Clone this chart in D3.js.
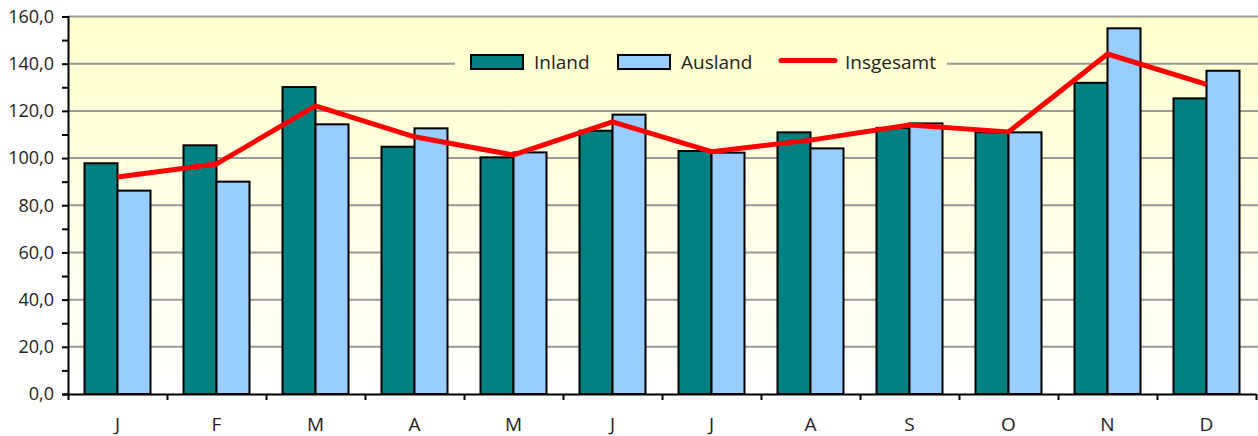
<!DOCTYPE html>
<html lang="de">
<head>
  <meta charset="UTF-8">
  <title>Inland / Ausland / Insgesamt</title>
  <script src="https://d3js.org/d3.v7.min.js"></script>
  <style>
    body { margin: 0; background: #fff; }
    text { font-family: "Open Sans", "Noto Sans", sans-serif; fill: #222; }
  </style>
</head>
<body>
  <div id="chart"></div>
  <script>
    // Daten
    const months = ["J", "F", "M", "A", "M", "J", "J", "A", "S", "O", "N", "D"];
    const inland = [97.8, 105.4, 130.1, 104.8, 100.3, 111.6, 103.0, 110.9, 112.8, 110.9, 131.9, 125.3];
    const ausland = [86.2, 90.0, 114.3, 112.6, 102.4, 118.4, 102.3, 104.1, 114.7, 110.9, 155.0, 137.0];
    const insgesamt = [92.0, 97.5, 122.1, 109.0, 101.3, 115.3, 102.7, 107.6, 114.0, 111.1, 144.1, 131.2];
    const seriesNames = ["Inland", "Ausland", "Insgesamt"];
    const yTicks = [0, 20, 40, 60, 80, 100, 120, 140, 160];

    const width = 1258, height = 436;
    const plotLeft = 68, plotRight = 1256, plotTop = 16.5, plotBottom = 394;

    const svg = d3.select("#chart").append("svg")
      .attr("width", width)
      .attr("height", height);

    const defs = svg.append("defs");
    const grad = defs.append("linearGradient")
      .attr("id", "bg")
      .attr("gradientUnits", "userSpaceOnUse")
      .attr("x1", 0).attr("x2", 0)
      .attr("y1", plotTop).attr("y2", plotBottom);
    grad.append("stop").attr("offset", "0%").attr("stop-color", "#ffffcc");
    grad.append("stop").attr("offset", "100%").attr("stop-color", "#ffffff");

    const x = d3.scaleBand()
      .domain(d3.range(months.length))
      .range([plotLeft, plotRight])
      .padding(0);

    const xSub = d3.scaleBand()
      .domain(["Inland", "Ausland"])
      .range([0, x.bandwidth()])
      .paddingInner(0)
      .paddingOuter(0.5);

    const y = d3.scaleLinear()
      .domain([0, 160])
      .range([plotBottom, plotTop]);

    // Hintergrund
    svg.append("rect")
      .attr("x", plotLeft).attr("y", plotTop)
      .attr("width", width - plotLeft).attr("height", plotBottom - plotTop)
      .attr("fill", "url(#bg)");

    // Gitternetz
    svg.append("g")
      .selectAll("line")
      .data(yTicks.filter(d => d > 0))
      .join("line")
      .attr("x1", plotLeft).attr("x2", width)
      .attr("y1", d => y(d)).attr("y2", d => y(d))
      .attr("stroke", "#999")
      .attr("stroke-width", 2);

    // Legende (überdeckt die Gitterlinie)
    const legend = svg.append("g");
    legend.append("rect")
      .attr("x", 455).attr("y", 47)
      .attr("width", 492).attr("height", 30)
      .attr("fill", "url(#bg)");

    // Balken
    const barData = [];
    months.forEach((m, i) => {
      barData.push({ i, key: "Inland", v: inland[i] });
      barData.push({ i, key: "Ausland", v: ausland[i] });
    });
    const colors = { Inland: "#008080", Ausland: "#99ccff" };

    svg.append("g")
      .selectAll("rect")
      .data(barData)
      .join("rect")
      .attr("x", d => x(d.i) + xSub(d.key))
      .attr("y", d => y(d.v))
      .attr("width", xSub.bandwidth())
      .attr("height", d => y(0) - y(d.v))
      .attr("fill", d => colors[d.key])
      .attr("stroke", "#000")
      .attr("stroke-width", 2);

    // Linie Insgesamt
    const line = d3.line()
      .x((d, i) => x(i) + x.bandwidth() / 2)
      .y(d => y(d));

    svg.append("path")
      .datum(insgesamt)
      .attr("d", line)
      .attr("fill", "none")
      .attr("stroke", "#ff0000")
      .attr("stroke-width", 5)
      .attr("stroke-linejoin", "round");

    // Y-Achse
    const yAxis = d3.axisLeft(y)
      .tickValues(d3.range(0, 161, 10))
      .tickSize(6)
      .tickPadding(8)
      .tickFormat(d => d % 20 === 0 ? d3.format(".1f")(d).replace(".", ",") : "");

    const gy = svg.append("g")
      .attr("transform", `translate(${plotLeft},0)`)
      .call(yAxis);
    gy.select(".domain").attr("stroke", "#000").attr("stroke-width", 2);
    gy.selectAll(".tick line").attr("stroke", "#000").attr("stroke-width", 2);
    gy.selectAll("text")
      .style("font-size", "18px")
      .attr("fill", "#222");

    // X-Achse: Striche zwischen den Monaten
    const xEdge = d3.scaleLinear().domain([0, months.length]).range([plotLeft, plotRight]);
    const gx = svg.append("g")
      .attr("transform", `translate(0,${plotBottom})`)
      .call(d3.axisBottom(xEdge).tickValues(d3.range(months.length + 1)).tickSize(6).tickSizeOuter(0).tickFormat(""));
    gx.select(".domain").attr("stroke", "#000").attr("stroke-width", 2);
    gx.selectAll(".tick line").attr("stroke", "#000").attr("stroke-width", 2);

    // X-Achse: Monatsbeschriftung
    const gxl = svg.append("g")
      .attr("transform", `translate(0,${plotBottom})`)
      .call(d3.axisBottom(x).tickSize(0).tickPadding(24).tickFormat(i => months[i]));
    gxl.select(".domain").remove();
    gxl.selectAll("text")
      .style("font-size", "19px")
      .attr("fill", "#222");

    // Legendeneinträge
    legend.append("rect")
      .attr("x", 471).attr("y", 55).attr("width", 52).attr("height", 14)
      .attr("fill", colors.Inland).attr("stroke", "#000").attr("stroke-width", 2);
    legend.append("text").attr("x", 534).attr("y", 69)
      .style("font-size", "19px").text(seriesNames[0]);

    legend.append("rect")
      .attr("x", 618).attr("y", 55).attr("width", 52).attr("height", 14)
      .attr("fill", colors.Ausland).attr("stroke", "#000").attr("stroke-width", 2);
    legend.append("text").attr("x", 681).attr("y", 69)
      .style("font-size", "19px").text(seriesNames[1]);

    legend.append("line")
      .attr("x1", 781).attr("x2", 835).attr("y1", 60.5).attr("y2", 60.5)
      .attr("stroke", "#ff0000").attr("stroke-width", 5).attr("stroke-linecap", "round");
    legend.append("text").attr("x", 845).attr("y", 69)
      .style("font-size", "19px").text(seriesNames[2]);
  </script>
</body>
</html>
